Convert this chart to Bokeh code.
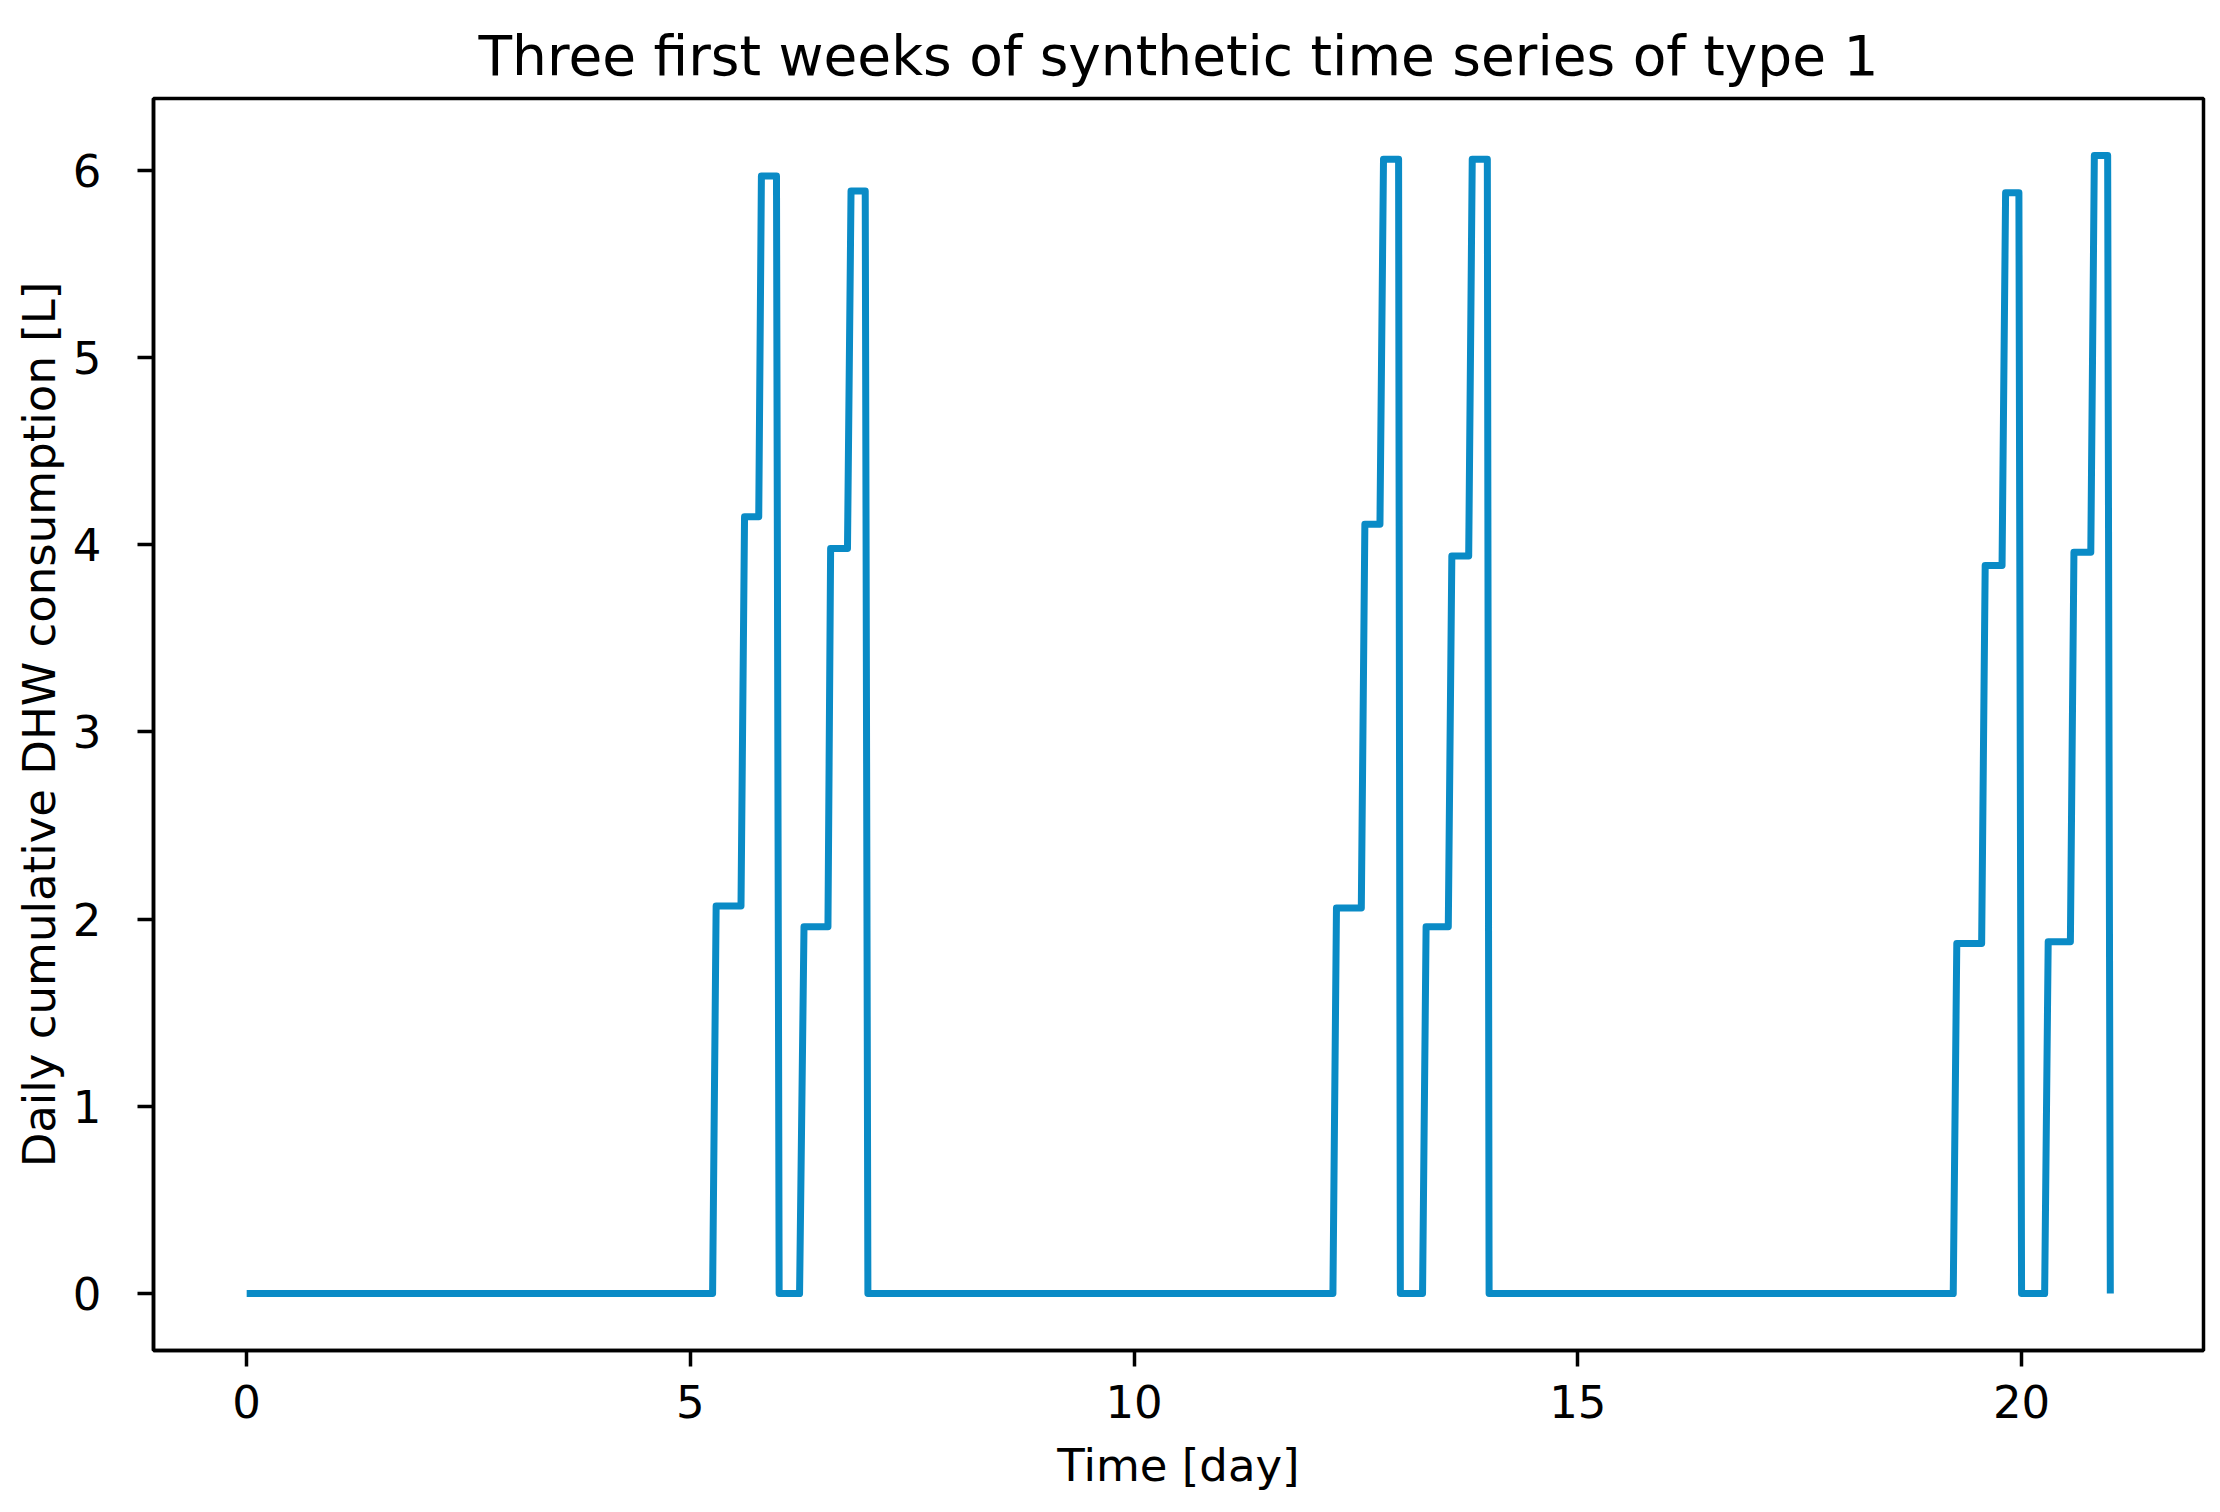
from bokeh.plotting import figure
from bokeh.models import FixedTicker, Range1d
from bokeh.embed import file_html
from bokeh.resources import INLINE

# ---- data (time in days, daily cumulative DHW in L) ----
time_day = [0.0, 5.25, 5.29, 5.57, 5.61, 5.77, 5.80, 5.97, 6.00,
            6.23, 6.28, 6.55, 6.58, 6.77, 6.81, 6.97, 7.00,
            12.24, 12.28, 12.56, 12.60, 12.77, 12.81, 12.98, 13.00,
            13.25, 13.29, 13.54, 13.58, 13.77, 13.81, 13.98, 14.00,
            19.23, 19.27, 19.55, 19.59, 19.78, 19.82, 19.97, 20.00,
            20.26, 20.30, 20.55, 20.59, 20.78, 20.82, 20.97, 21.00]
consumption = [0, 0, 2.07, 2.07, 4.15, 4.15, 5.97, 5.97, 0,
               0, 1.96, 1.96, 3.98, 3.98, 5.89, 5.89, 0,
               0, 2.06, 2.06, 4.11, 4.11, 6.06, 6.06, 0,
               0, 1.96, 1.96, 3.94, 3.94, 6.06, 6.06, 0,
               0, 1.87, 1.87, 3.89, 3.89, 5.88, 5.88, 0,
               0, 1.88, 1.88, 3.96, 3.96, 6.08, 6.08, 0]
x_ticks = [0, 5, 10, 15, 20]
y_ticks = [0, 1, 2, 3, 4, 5, 6]

title_text = "Three first weeks of synthetic time series of type 1"
x_label = "Time [day]"
y_label = "Daily cumulative DHW consumption [L]"

FONT = "DejaVu Sans"

p = figure(frame_width=2050, frame_height=1252,
           min_border_left=153, min_border_right=9,
           min_border_top=98, min_border_bottom=150,
           output_backend="svg", toolbar_location=None,
           x_range=Range1d(-1.05, 22.05), y_range=Range1d(-0.304, 6.384),
           title=title_text)

p.line(time_day, consumption, line_color="#0a8bc6", line_width=7, line_join="round")

p.title.align = "center"
p.title.text_font = FONT
p.title.text_font_size = "55px"
p.title.text_font_style = "normal"
p.title.text_color = "#000000"
p.title.standoff = 21

p.xgrid.visible = False
p.ygrid.visible = False
p.background_fill_color = "white"
p.border_fill_color = "white"
p.outline_line_color = "#000000"
p.outline_line_width = 3.5
p.outline_line_alpha = 1.0

p.xaxis.ticker = FixedTicker(ticks=x_ticks)
p.yaxis.ticker = FixedTicker(ticks=y_ticks)
p.xaxis.axis_label = x_label
p.yaxis.axis_label = y_label

for ax in (p.xaxis, p.yaxis):
    ax.axis_line_color = "#000000"
    ax.axis_line_width = 3.5
    ax.major_tick_line_color = "#000000"
    ax.major_tick_line_width = 3.5
    ax.major_tick_out = 16
    ax.major_tick_in = 0
    ax.minor_tick_line_color = None
    ax.major_label_text_font = FONT
    ax.major_label_text_font_size = "45px"
    ax.major_label_text_color = "#000000"
    ax.axis_label_text_font = FONT
    ax.axis_label_text_font_size = "45px"
    ax.axis_label_text_font_style = "normal"
    ax.axis_label_text_color = "#000000"

p.xaxis.major_label_standoff = 18
p.xaxis.axis_label_standoff = 18
p.yaxis.major_label_standoff = 36
p.yaxis.axis_label_standoff = 4

open("out.html", "w").write(file_html(p, INLINE))
